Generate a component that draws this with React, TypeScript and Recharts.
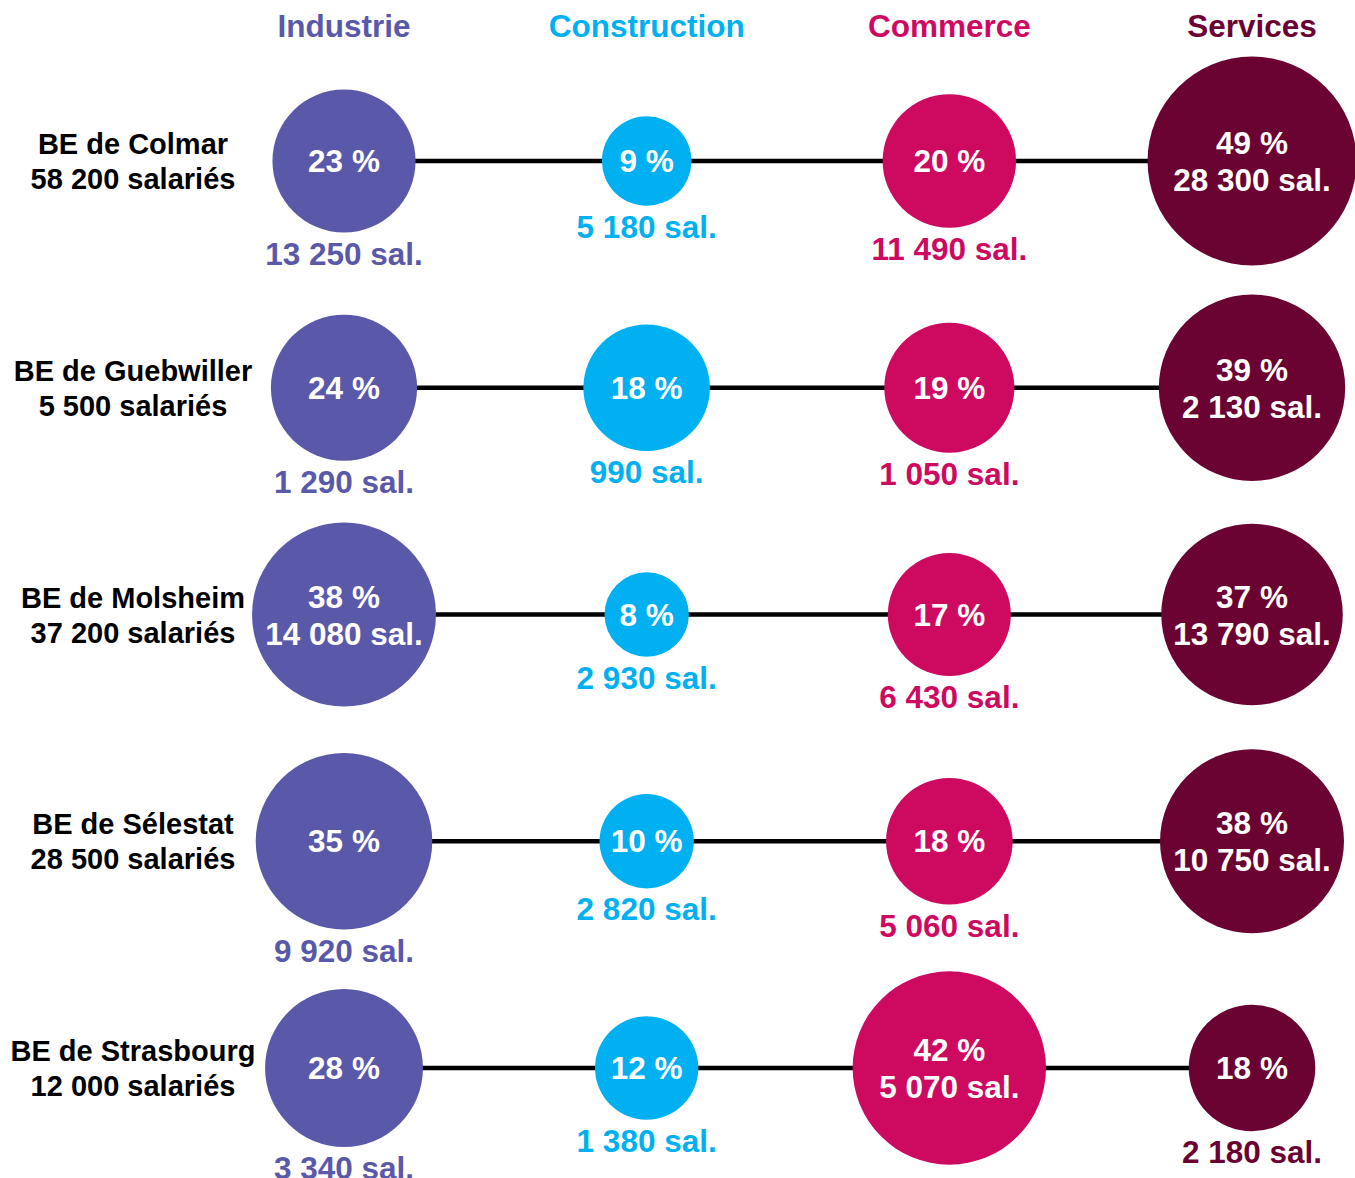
import React from 'react';
import { ScatterChart, Scatter, XAxis, YAxis, ZAxis } from 'recharts';

const SECTORS = ['Industrie', 'Construction', 'Commerce', 'Services'];
const SECTOR_COLORS = ['#5A58A8', '#00B0F0', '#CE0A60', '#6A0332'];

const ZONES = ['BE de Colmar', 'BE de Guebwiller', 'BE de Molsheim', 'BE de Sélestat', 'BE de Strasbourg'];
const ZONE_TOTALS = [58200, 5500, 37200, 28500, 12000];

const INDUSTRIE_PCT = [23, 24, 38, 35, 28];
const INDUSTRIE_SAL = [13250, 1290, 14080, 9920, 3340];
const CONSTRUCTION_PCT = [9, 18, 8, 10, 12];
const CONSTRUCTION_SAL = [5180, 990, 2930, 2820, 1380];
const COMMERCE_PCT = [20, 19, 17, 18, 42];
const COMMERCE_SAL = [11490, 1050, 6430, 5060, 5070];
const SERVICES_PCT = [49, 39, 37, 38, 18];
const SERVICES_SAL = [28300, 2130, 13790, 10750, 2180];

const PCTS = [INDUSTRIE_PCT, CONSTRUCTION_PCT, COMMERCE_PCT, SERVICES_PCT];
const SALS = [INDUSTRIE_SAL, CONSTRUCTION_SAL, COMMERCE_SAL, SERVICES_SAL];

const ROWS = ZONES.map((zone, i) =>
  SECTORS.map((sector, j) => ({ sector: j, zone: i, pct: PCTS[j][i], sal: SALS[j][i] }))
);

const fmt = (n: number) => String(n).replace(/\B(?=(\d{3})+(?!\d))/g, ' ');

const FONT = 'Liberation Sans, Arial, Helvetica, sans-serif';
const K = 14.92; // px radius per sqrt(percent)
const MAX_AREA = Math.PI * (K * 10) * (K * 10);

const Bubble = (props: any) => {
  const { cx, cy, payload } = props;
  const r = props.size != null ? Math.sqrt(props.size / Math.PI) : props.width / 2;
  const color = SECTOR_COLORS[payload.sector];
  const inside = r > 89.5;
  const t = { fontFamily: FONT, fontWeight: 700, fontSize: 31.5 } as React.CSSProperties;
  return (
    <g>
      <circle cx={cx} cy={cy} r={r} fill={color} />
      {inside ? (
        <>
          <text x={cx} y={cy - 7} textAnchor="middle" fill="#fff" style={t}>{`${payload.pct} %`}</text>
          <text x={cx} y={cy + 30} textAnchor="middle" fill="#fff" style={t}>{`${fmt(payload.sal)} sal.`}</text>
        </>
      ) : (
        <>
          <text x={cx} y={cy + 11} textAnchor="middle" fill="#fff" style={t}>{`${payload.pct} %`}</text>
          <text x={cx} y={cy + r + 32} textAnchor="middle" fill={color} style={t}>{`${fmt(payload.sal)} sal.`}</text>
        </>
      )}
    </g>
  );
};

const SectorTick = (props: any) => {
  const { x, payload } = props;
  const idx = payload.value;
  return (
    <text x={x} y={37} textAnchor="middle" fill={SECTOR_COLORS[idx]}
      style={{ fontFamily: FONT, fontWeight: 700, fontSize: 31.5 }}>
      {SECTORS[idx]}
    </text>
  );
};

const ZoneTick = (props: any) => {
  const { y, payload } = props;
  const idx = payload.value;
  const t = { fontFamily: FONT, fontWeight: 700, fontSize: 29 } as React.CSSProperties;
  return (
    <g>
      <text x={133} y={y - 7} textAnchor="middle" fill="#000" style={t}>{ZONES[idx]}</text>
      <text x={133} y={y + 28} textAnchor="middle" fill="#000" style={t}>{`${fmt(ZONE_TOTALS[idx])} salariés`}</text>
    </g>
  );
};

export default function App() {
  return (
    <div style={{ position: 'absolute', left: 0, top: 0, width: 1355, height: 1178, background: '#fff' }}>
      <ScatterChart width={1355} height={1178} margin={{ top: 0, right: 103, bottom: 110, left: 0 }}>
        <XAxis
          type="number"
          dataKey="sector"
          orientation="top"
          height={161}
          domain={[0, 3]}
          ticks={[0, 1, 2, 3]}
          interval={0}
          axisLine={false}
          tickLine={false}
          tick={<SectorTick />}
        />
        <YAxis
          type="number"
          dataKey="zone"
          width={344}
          domain={[0, 4]}
          ticks={[0, 1, 2, 3, 4]}
          interval={0}
          reversed
          axisLine={false}
          tickLine={false}
          tick={<ZoneTick />}
        />
        <ZAxis type="number" dataKey="pct" domain={[0, 100]} range={[0, MAX_AREA]} />
        {ROWS.map((row, i) => (
          <Scatter
            key={i}
            data={row}
            isAnimationActive={false}
            line={{ stroke: '#000', strokeWidth: 4.5 }}
            lineType="joint"
            shape={<Bubble />}
          />
        ))}
      </ScatterChart>
    </div>
  );
}
